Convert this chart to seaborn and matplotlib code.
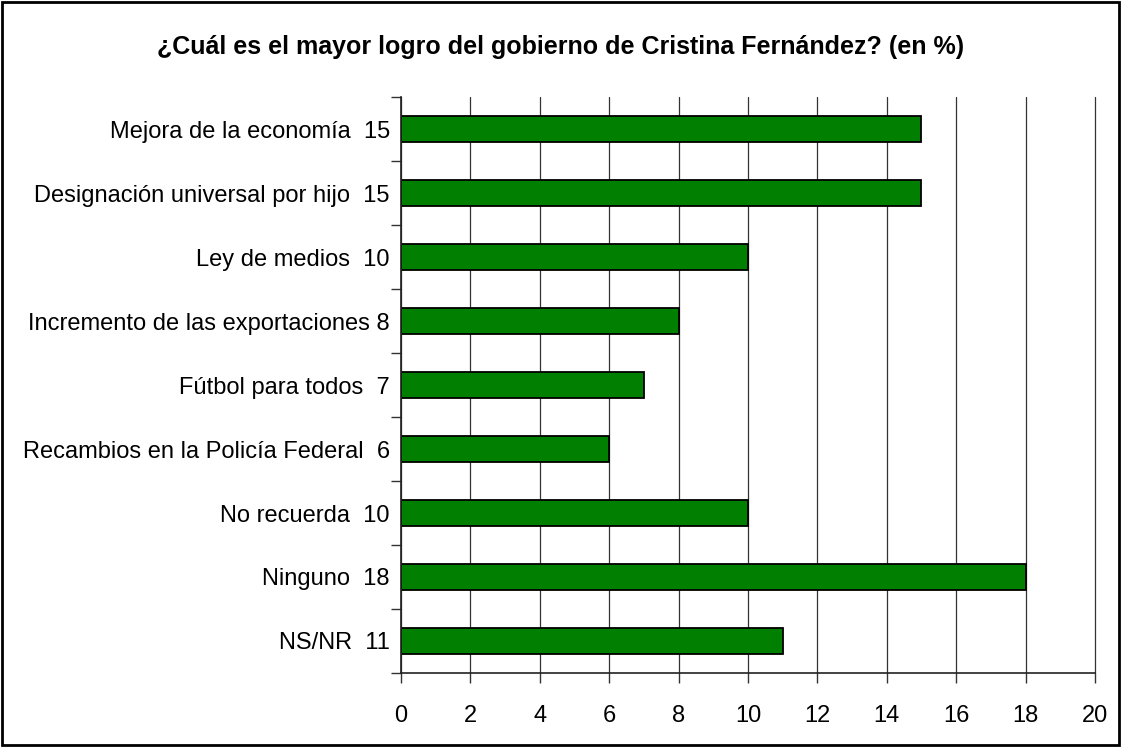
import matplotlib
matplotlib.use("Agg")
import matplotlib.pyplot as plt
import seaborn as sns
import pandas as pd
import numpy as np
from matplotlib.ticker import FixedLocator
from matplotlib.patches import Rectangle

categories = [
    "Mejora de la economía  15",
    "Designación universal por hijo  15",
    "Ley de medios  10",
    "Incremento de las exportaciones 8",
    "Fútbol para todos  7",
    "Recambios en la Policía Federal  6",
    "No recuerda  10",
    "Ninguno  18",
    "NS/NR  11",
]
values = [15, 15, 10, 8, 7, 6, 10, 18, 11]
x_ticks = [0, 2, 4, 6, 8, 10, 12, 14, 16, 18, 20]
title = "¿Cuál es el mayor logro del gobierno de Cristina Fernández? (en %)"

df = pd.DataFrame({"categoria": categories, "valor": values})

sns.set_style("white")
plt.rcParams["font.family"] = ["Liberation Sans", "DejaVu Sans"]
plt.rcParams["text.color"] = "black"
plt.rcParams["xtick.color"] = "black"
plt.rcParams["ytick.color"] = "black"

fig = plt.figure(figsize=(11.21, 7.47), dpi=100)
ax = fig.add_axes([0.3577, 0.0991, 0.6191, 0.7709])

sns.barplot(data=df, x="valor", y="categoria", orient="h", color="#007F00",
            edgecolor="black", linewidth=1.3, width=0.4, saturation=1, ax=ax)

ax.set_xlim(0, 20)
ax.set_ylim(len(categories) - 0.5, -0.5)
ax.set_xticks(x_ticks)
ax.set_xticklabels([str(t) for t in x_ticks], fontsize=17)
ax.set_yticklabels(categories, fontsize=17)
ax.set_xlabel("")
ax.set_ylabel("")

# vertical gridlines
ax.set_axisbelow(True)
ax.grid(axis="x", color="#333333", linewidth=0.9)
ax.grid(axis="y", visible=False)
for gl in ax.get_xgridlines():
    gl.set_clip_on(False)

# ticks: x ticks down, y ticks between categories
ax.tick_params(axis="x", bottom=True, direction="out", length=7, width=1,
               color="#333333", pad=16)
ax.tick_params(axis="y", which="major", left=False, length=0, pad=8)
ax.yaxis.set_minor_locator(FixedLocator(np.arange(-0.5, len(categories), 1.0)))
ax.tick_params(axis="y", which="minor", left=True, direction="out", length=7,
               width=1, color="#333333")

for side in ["top", "right"]:
    ax.spines[side].set_visible(False)
for side in ["left", "bottom"]:
    ax.spines[side].set_color("#222222")
    ax.spines[side].set_linewidth(1.2)

fig.text(0.5, 0.937, title, ha="center", va="center", fontsize=18, fontweight="bold")

# border round the whole chart
fig.patches.append(Rectangle((0.002, 0.003), 0.996, 0.994, transform=fig.transFigure,
                             fill=False, edgecolor="black", linewidth=2))

fig.savefig("out.png", dpi=100)
